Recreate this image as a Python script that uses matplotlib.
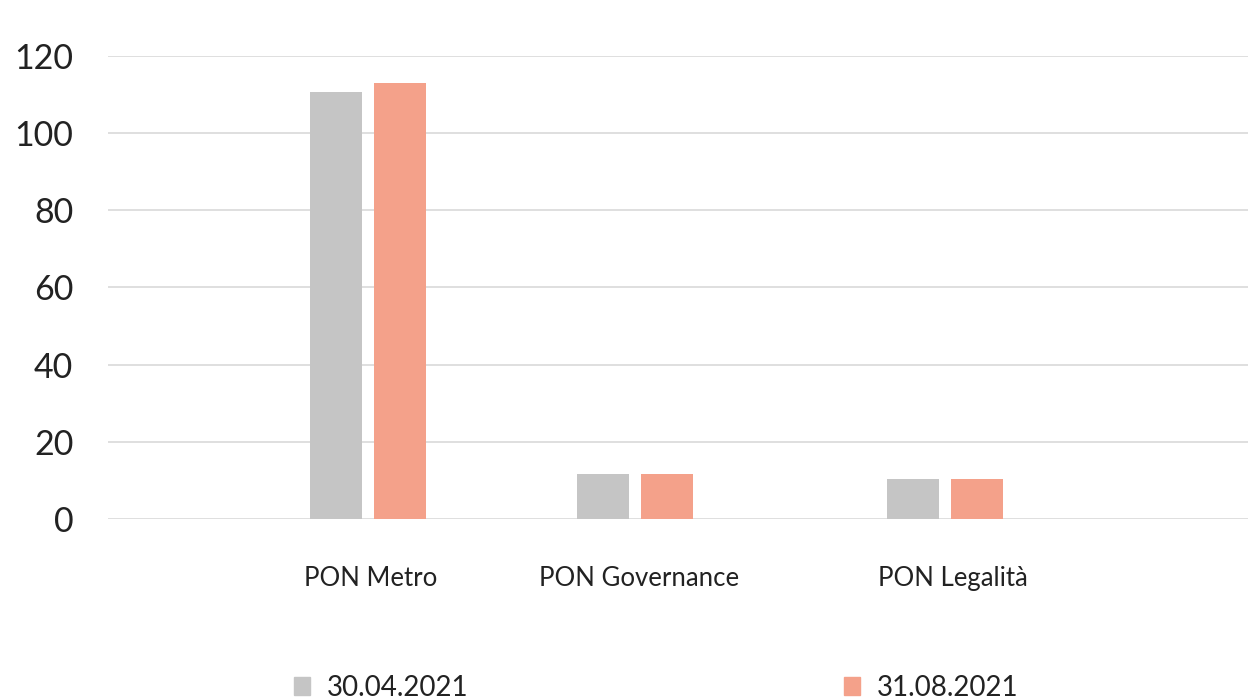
import matplotlib.pyplot as plt
from matplotlib.patches import Patch

# Values
categories = ['PON Metro', 'PON Governance', 'PON Legalità']
series_names = ['30.04.2021', '31.08.2021']
values_apr = [110.7, 11.6, 10.3]
values_aug = [113.0, 11.6, 10.3]
y_ticks = [0, 20, 40, 60, 80, 100, 120]

# group centres along the plot (pixel-like units, plot is 1140 wide)
centers = [259.5, 526.5, 836.5]
label_pos = [263, 531, 845]

colors = ['#c5c5c5', '#f4a18a']
font = ['Lato', 'DejaVu Sans']
plt.rcParams['font.family'] = font

fig = plt.figure(figsize=(12.48, 6.98), dpi=100)
ax = fig.add_axes([108 / 1248, (698 - 518.7) / 698, 1 - 108 / 1248, (518.7 - 56.2) / 698])

width = 52
ax.bar([c - 32 for c in centers], values_apr, width, color=colors[0], zorder=3)
ax.bar([c + 32 for c in centers], values_aug, width, color=colors[1], zorder=3)

ax.set_xlim(0, 1140)
ax.set_ylim(0, 120)
ax.set_yticks(y_ticks)
ax.set_yticklabels([str(v) for v in y_ticks], fontsize=24.5, color='#222222')
ax.set_xticks(label_pos)
ax.set_xticklabels(categories, fontsize=18.5, color='#222222')
ax.tick_params(axis='y', length=0, pad=25)
ax.tick_params(axis='x', length=0, pad=34)

ax.grid(axis='y', color='#d9d9d9', linewidth=1.2, zorder=0)
for s in ax.spines.values():
    s.set_visible(False)

handles = [Patch(color=colors[0]), Patch(color=colors[1])]
fig.legend(handles, series_names, loc='center', ncol=2,
           bbox_to_anchor=(656 / 1248, 1 - 688 / 698),
           frameon=False, fontsize=20, handlelength=0.6, handleheight=0.6,
           handletextpad=0.6, columnspacing=13.5, labelcolor='#222222')

fig.savefig('out.png', dpi=100)
